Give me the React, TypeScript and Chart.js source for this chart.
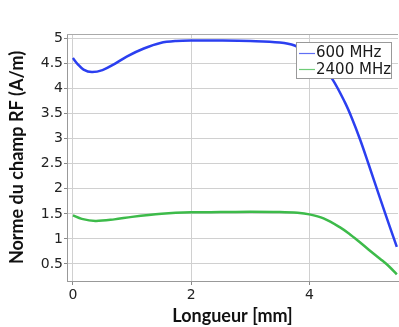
import React, { useEffect, useRef } from "react";
import { Chart, registerables } from "chart.js";

Chart.register(...registerables);

const xTickValues = [0, 2, 4];
const yTickValues = [0.5, 1, 1.5, 2, 2.5, 3, 3.5, 4, 4.5, 5];

const seriesLabels = ["600 MHz", "2400 MHz"];

const x600 = [0, 0.08, 0.18, 0.32, 0.5, 0.7, 0.91, 1.2, 1.48, 1.75, 2.03, 2.5, 3.0, 3.5, 3.75, 4.0, 4.2, 4.4, 4.6, 4.72, 4.86, 5.0, 5.2, 5.35, 5.48];
const y600 = [4.61, 4.49, 4.38, 4.33, 4.37, 4.49, 4.64, 4.8, 4.91, 4.95, 4.96, 4.96, 4.95, 4.92, 4.86, 4.7, 4.48, 4.17, 3.73, 3.41, 2.98, 2.5, 1.8, 1.28, 0.84];

const x2400 = [0, 0.15, 0.38, 0.7, 1.0, 1.5, 2.0, 2.5, 3.0, 3.5, 3.8, 4.0, 4.24, 4.52, 4.7, 4.86, 5.0, 5.2, 5.35, 5.48];
const y2400 = [1.47, 1.4, 1.36, 1.39, 1.44, 1.5, 1.53, 1.535, 1.54, 1.535, 1.52, 1.49, 1.41, 1.23, 1.08, 0.93, 0.79, 0.6, 0.45, 0.29];

const colors = ["#2b3ff0", "#3dbb4a"];

const legendPlugin = {
  id: "boxLegend",
  afterDraw(chart: any) {
    const { ctx, chartArea } = chart;
    const w = 96;
    const h = 37;
    const x = chartArea.right - 6 - w;
    const y = chartArea.top + 8;
    ctx.save();
    ctx.fillStyle = "#ffffff";
    ctx.fillRect(x, y, w, h);
    ctx.strokeStyle = "#999999";
    ctx.lineWidth = 1;
    ctx.strokeRect(x + 0.5, y + 0.5, w - 1, h - 1);
    ctx.font = "15px 'DejaVu Sans'";
    ctx.textBaseline = "middle";
    chart.data.datasets.forEach((ds: any, i: number) => {
      const cy = y + 10.5 + i * 16.5;
      ctx.strokeStyle = ds.borderColor;
      ctx.globalAlpha = 0.75;
      ctx.lineWidth = 1.2;
      ctx.beginPath();
      ctx.moveTo(x + 3, Math.round(cy) + 0.5);
      ctx.lineTo(x + 19, Math.round(cy) + 0.5);
      ctx.stroke();
      ctx.globalAlpha = 1;
      ctx.fillStyle = "#1a1a1a";
      ctx.fillText(ds.label, x + 20, cy + 1);
    });
    ctx.restore();
  },
};

const topBorderPlugin = {
  id: "topBorder",
  beforeDatasetsDraw(chart: any) {
    const { ctx, chartArea } = chart;
    ctx.save();
    ctx.strokeStyle = "#aaaaaa";
    ctx.lineWidth = 1;
    ctx.beginPath();
    ctx.moveTo(chartArea.left, Math.round(chartArea.top) + 0.5);
    ctx.lineTo(chartArea.right, Math.round(chartArea.top) + 0.5);
    ctx.stroke();
    ctx.restore();
  },
};

export default function App() {
  const ref = useRef<HTMLCanvasElement | null>(null);
  useEffect(() => {
    document.body.style.margin = "0";
    const mk = (xs: number[], ys: number[]) => xs.map((v, i) => ({ x: v, y: ys[i] }));
    const chart = new Chart(ref.current!, {
      type: "line",
      data: {
        datasets: [
          {
            label: seriesLabels[0],
            data: mk(x600, y600),
            borderColor: colors[0],
            borderWidth: 2.5,
            pointRadius: 0,
            tension: 0.35,
            fill: false,
          },
          {
            label: seriesLabels[1],
            data: mk(x2400, y2400),
            borderColor: colors[1],
            borderWidth: 2.5,
            pointRadius: 0,
            tension: 0.35,
            fill: false,
          },
        ],
      },
      options: {
        animation: false,
        responsive: false,
        layout: { padding: { top: 34, right: 1, left: 0, bottom: 0 } },
        plugins: { legend: { display: false }, tooltip: { enabled: false } },
        scales: {
          x: {
            type: "linear",
            min: -0.1,
            max: 5.5,
            afterBuildTicks: (s: any) => {
              s.ticks = xTickValues.map((v) => ({ value: v }));
            },
            afterFit: (s: any) => {
              s.height = 46;
            },
            grid: { color: "#d0d0d0", tickLength: 4, tickColor: "#888888" },
            border: { color: "#999999" },
            ticks: {
              color: "#222222",
              font: { family: "DejaVu Sans", size: 14 },
              padding: 2,
              maxRotation: 0,
              callback: (v: any) => String(v),
            },
            title: {
              display: true,
              text: "Longueur [mm]",
              color: "#111111",
              font: { family: "Lato", size: 18, weight: "bold" },
              padding: { top: 0, bottom: 0 },
            },
          },
          y: {
            type: "linear",
            min: 0.16,
            max: 5.09,
            afterBuildTicks: (s: any) => {
              s.ticks = yTickValues.map((v) => ({ value: v }));
            },
            afterFit: (s: any) => {
              s.width = 67;
            },
            grid: { color: "#d0d0d0", tickLength: 3, tickColor: "#888888" },
            border: { color: "#999999" },
            ticks: {
              color: "#222222",
              font: { family: "DejaVu Sans", size: 14 },
              padding: 1,
              callback: (v: any) => String(v),
            },
            title: {
              display: true,
              text: "Norme du champ RF (A/m)",
              color: "#111111",
              font: { family: "Lato", size: 18, weight: "bold" },
              padding: { top: 6, bottom: 0 },
            },
          },
        },
      },
      plugins: [topBorderPlugin, legendPlugin],
    } as any);
    return () => chart.destroy();
  }, []);
  return (
    <div style={{ width: 399, height: 327, background: "#fff" }}>
      <canvas ref={ref} width={399} height={327} style={{ display: "block" }} />
    </div>
  );
}
